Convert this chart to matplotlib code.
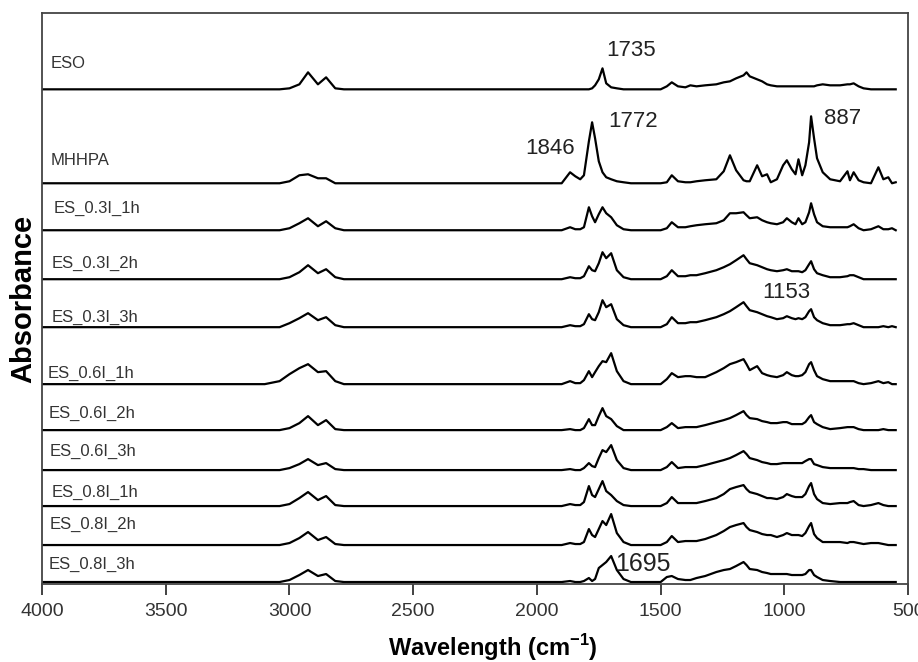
#!/usr/bin/env python3
"""
Stacked FTIR spectra of ESO, MHHPA and the ES_x I_y h samples.
Heights are read off the original figure (arbitrary absorbance units).
"""

import numpy as np
import matplotlib
matplotlib.use('Agg')
import matplotlib.pyplot as plt
from matplotlib import font_manager

# wavenumber grid (cm-1), grouped by region
wn_ch = [4000, 3100, 3040, 3000, 2960, 2925, 2885, 2852, 2815, 2780]
wn_co = [2000, 1900, 1866, 1845, 1825, 1810, 1790, 1777, 1765, 1750, 1735, 1720, 1700, 1677, 1650, 1620]
wn_mid = [1500, 1475, 1455, 1430, 1400, 1380, 1355, 1320, 1275, 1245, 1220, 1195, 1165, 1153]
wn_fp = [1140, 1110, 1090, 1070, 1055, 1030, 1005, 990, 970, 955, 943, 928, 915, 900, 892]
wn_tail = [880, 868, 845, 815, 775, 745, 735, 720, 700, 680, 650, 620, 600, 580, 565, 550]

# spectra, same grouping
eso = [0, 0, 0, 1, 5, 17, 5, 12, 1, 0,
       0, 0, 0, 0, 0, 0, 0, 1, 4, 10, 21, 6, 2, 1, 0, 0,
       0, 3, 7, 3, 2, 4, 3, 4, 5, 7, 8, 11, 14, 17,
       13, 10, 8, 5, 4, 3, 3, 3, 3, 3, 3, 3, 3, 3, 3,
       3, 4, 5, 4, 4, 5, 5, 6, 3, 1, 0, 0, 0, 0, 0, 0]
mhhpa = [0, 0, 0, 2, 8, 9, 5, 5, 0, 0,
         0, 0, 11, 7, 4, 8, 42, 61, 45, 22, 11, 6, 4, 2, 1, 0,
         0, 1, 8, 2, 1, 1, 2, 3, 4, 12, 28, 13, 3, 2,
         2, 18, 7, 9, 1, 4, 18, 23, 14, 9, 24, 8, 18, 41, 67,
         45, 25, 11, 4, 2, 12, 3, 11, 3, 1, 0, 16, 4, 6, 0, 1]
es_03_1h = [0, 0, 0, 2, 7, 12, 4, 9, 2, 0,
            0, 0, 3, 1, 1, 3, 23, 14, 8, 16, 23, 17, 13, 5, 1, 0,
            0, 2, 8, 3, 3, 4, 5, 6, 7, 10, 17, 17, 18, 15,
            12, 13, 10, 8, 7, 6, 8, 12, 8, 6, 12, 6, 8, 18, 27,
            16, 8, 4, 3, 3, 3, 4, 6, 2, 0, 1, 4, 1, 1, 2, 0]
es_03_2h = [0, 0, 0, 2, 7, 14, 6, 10, 2, 0,
            0, 0, 2, 1, 1, 3, 13, 9, 8, 16, 27, 21, 26, 9, 2, 0,
            0, 3, 9, 3, 3, 4, 4, 6, 9, 12, 15, 19, 24, 20,
            16, 14, 12, 10, 9, 8, 9, 10, 8, 8, 8, 7, 9, 15, 18,
            10, 6, 4, 2, 2, 3, 4, 4, 2, 0, 0, 0, 0, 0, 0, 0]
es_03_3h = [0, 0, 0, 4, 9, 14, 7, 10, 2, 0,
            0, 0, 2, 1, 1, 3, 13, 8, 7, 15, 27, 20, 23, 8, 2, 0,
            0, 3, 10, 4, 4, 5, 5, 7, 10, 13, 16, 20, 25, 21,
            17, 15, 13, 11, 10, 8, 9, 11, 9, 8, 9, 8, 10, 16, 18,
            10, 7, 4, 2, 2, 3, 3, 4, 2, 0, 0, 0, 1, 0, 1, 0]
es_06_1h = [0, 0, 3, 10, 16, 20, 12, 13, 3, 0,
            0, 0, 3, 1, 1, 4, 13, 7, 12, 18, 23, 22, 31, 13, 3, 0,
            0, 5, 11, 7, 8, 8, 7, 7, 12, 16, 20, 22, 25, 20,
            14, 18, 11, 9, 8, 7, 9, 12, 9, 8, 8, 9, 12, 20, 22,
            14, 8, 5, 3, 3, 3, 3, 3, 1, 0, 1, 3, 1, 2, 0, 0]
es_06_2h = [0, 0, 0, 2, 7, 14, 5, 10, 1, 0,
            0, 0, 1, 0, 0, 2, 11, 5, 5, 14, 22, 14, 11, 4, 0, 0,
            0, 3, 7, 2, 3, 3, 3, 5, 8, 10, 12, 15, 19, 15,
            12, 11, 9, 8, 7, 7, 8, 8, 6, 6, 6, 6, 8, 13, 15,
            8, 6, 3, 1, 2, 3, 3, 3, 1, 0, 0, 0, 1, 0, 0, 0]
es_06_3h = [0, 0, 0, 2, 6, 11, 5, 7, 1, 0,
            0, 0, 1, 0, 0, 2, 7, 4, 3, 12, 20, 18, 25, 10, 2, 0,
            0, 3, 8, 2, 3, 3, 3, 5, 8, 10, 12, 15, 19, 16,
            12, 10, 8, 7, 6, 6, 7, 7, 7, 7, 7, 7, 9, 11, 11,
            6, 5, 3, 2, 2, 2, 2, 2, 1, 1, 0, 0, 0, 0, 0, 0]
es_08_1h = [0, 0, 0, 2, 8, 14, 6, 10, 1, 0,
            0, 0, 2, 1, 1, 4, 20, 11, 9, 17, 25, 15, 11, 5, 1, 0,
            0, 3, 9, 3, 3, 3, 3, 5, 8, 12, 17, 19, 21, 17,
            14, 12, 10, 8, 8, 7, 9, 12, 10, 9, 9, 9, 12, 20, 23,
            12, 7, 3, 2, 3, 3, 4, 5, 1, 0, 1, 3, 1, 0, 0, 0]
es_08_2h = [0, 0, 0, 2, 7, 13, 5, 8, 1, 0,
            0, 0, 2, 1, 1, 3, 16, 10, 8, 16, 24, 20, 31, 12, 3, 0,
            0, 3, 9, 3, 4, 4, 4, 6, 10, 14, 18, 20, 22, 18,
            15, 13, 11, 10, 10, 8, 10, 12, 10, 10, 10, 9, 12, 19, 22,
            11, 7, 3, 3, 3, 2, 3, 3, 2, 1, 2, 2, 1, 0, 0, 0]
es_08_3h = [0, 0, 0, 2, 7, 12, 6, 8, 1, 0,
            0, 0, 1, 0, 0, 1, 4, 1, 3, 14, 17, 20, 26, 12, 3, 0,
            0, 5, 6, 3, 2, 2, 4, 6, 10, 12, 13, 16, 20, 17,
            13, 12, 10, 9, 8, 8, 8, 8, 7, 7, 7, 7, 8, 12, 12,
            7, 5, 2, 1, 0, 0, 0, 0, 0, 0, 0, 0, 0, 0, 0, 0]

names = ['ESO', 'MHHPA', 'ES_0.3I_1h', 'ES_0.3I_2h', 'ES_0.3I_3h', 'ES_0.6I_1h',
         'ES_0.6I_2h', 'ES_0.6I_3h', 'ES_0.8I_1h', 'ES_0.8I_2h', 'ES_0.8I_3h']
spectra = [eso, mhhpa, es_03_1h, es_03_2h, es_03_3h, es_06_1h,
           es_06_2h, es_06_3h, es_08_1h, es_08_2h, es_08_3h]

# peak annotations: (wavenumber, height above the trace's baseline, trace index)
peak_labels = ['1735', '1772', '1846', '887', '1153', '1695']
peak_pos = [(1620, 39, 0), (1612, 62, 1), (1947, 35, 1), (766, 65, 1), (993, 35, 4), (1572, 18, 10)]
peak_size = [16, 16, 16, 16, 16, 18]

# vertical stacking (baseline of each trace) and label heights
offsets = [495, 401, 354, 305, 257, 200, 154, 114, 78, 39, 2]
label_dy = [26, 23, 22, 16, 10, 11, 17, 19, 14, 21, 18]
label_x = [3965, 3965, 3955, 3962, 3962, 3978, 3973, 3968, 3962, 3968, 3973]


def pick_font(cands):
    for c in cands:
        try:
            font_manager.findfont(c, fallback_to_default=False)
            return c
        except Exception:
            pass
    return 'DejaVu Sans'


plain = pick_font(['Liberation Sans', 'DejaVu Sans'])
plt.rcParams['font.family'] = plain
plt.rcParams['mathtext.fontset'] = 'custom'
plt.rcParams['mathtext.rm'] = plain
plt.rcParams['mathtext.bf'] = plain + ':bold'

wn = np.array(wn_ch + wn_co + wn_mid + wn_fp + wn_tail)

fig = plt.figure(figsize=(9.18, 6.62), dpi=100)
ax = fig.add_axes([0.0458, 0.1178, 0.9434, 0.862])

for name, spec, off, dy, lx in zip(names, spectra, offsets, label_dy, label_x):
    y = np.array(spec, dtype=float)
    ax.plot(wn, y + off, color='black', lw=1.6, solid_joinstyle='round')
    ax.text(lx, off + dy, name, fontsize=12, color='#333333', va='center', ha='left')

for lab, (x, dy, i), fs in zip(peak_labels, peak_pos, peak_size):
    ax.text(x, offsets[i] + dy, lab, fontsize=fs, color='#222222', ha='center', va='center')

ax.set_xlim(4000, 500)
ax.set_ylim(0, 571)
ax.set_xticks(np.arange(4000, 499, -500))
ax.set_yticks([])
ax.tick_params(axis='x', direction='out', length=8, width=1.3, pad=6,
               labelsize=14, colors='#333333')
for s in ax.spines.values():
    s.set_linewidth(1.3)
    s.set_color('#444444')

ax.set_xlabel(r'Wavelength (cm$^{\mathbf{-1}}$)', fontsize=17, fontweight='bold', labelpad=6)
ax.xaxis.set_label_coords(0.52, -0.085)
ax.set_ylabel('Absorbance', fontsize=21, fontweight='bold')
ax.yaxis.set_label_coords(-0.006, 0.5)

fig.savefig('out.png', dpi=100)
